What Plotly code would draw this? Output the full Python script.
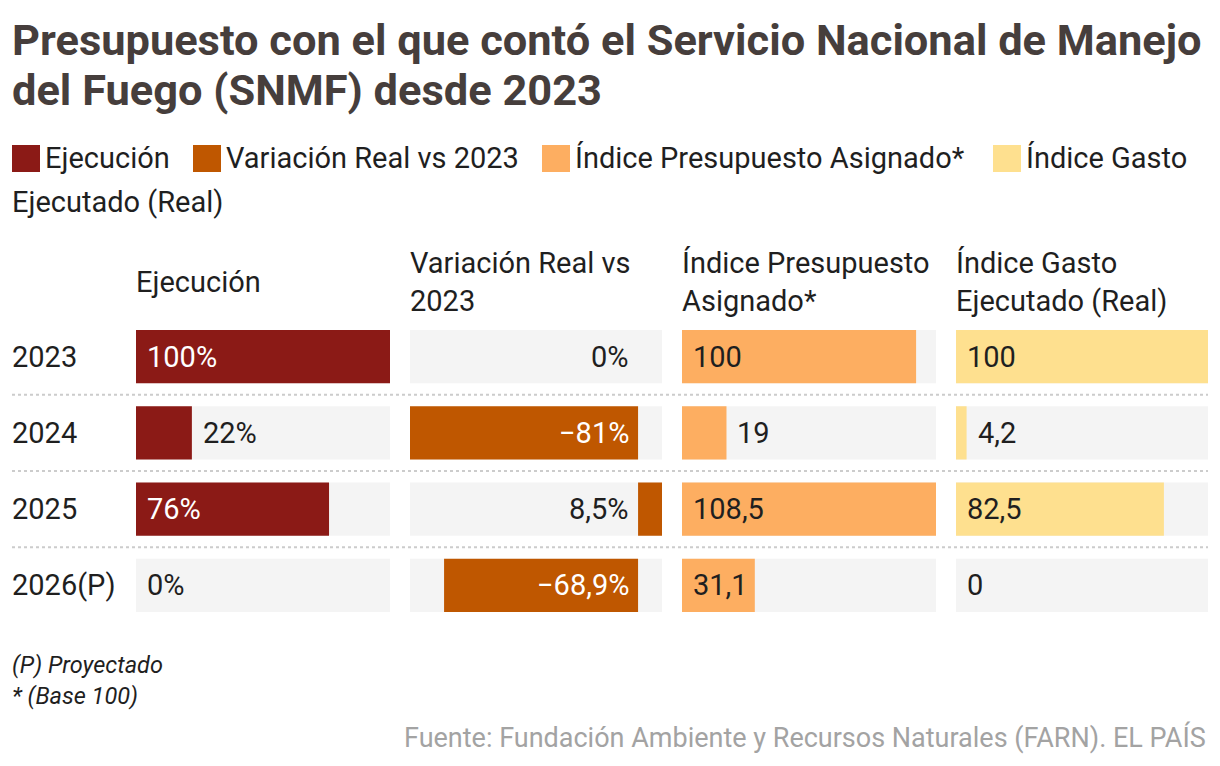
import plotly.graph_objects as go

# ---------------- data ----------------
years = ["2023", "2024", "2025", "2026(P)"]
ejecucion = [100, 22, 76, 0]
variacion = [0, -81, 8.5, -68.9]
indice_presupuesto = [100, 19, 108.5, 31.1]
indice_gasto = [100, 4.2, 82.5, 0]

column_headers = ["Ejecución", "Variación Real vs<br>2023",
                  "Índice Presupuesto<br>Asignado*", "Índice Gasto<br>Ejecutado (Real)"]
legend_names = ["Ejecución", "Variación Real vs 2023",
                "Índice Presupuesto Asignado*", "Índice Gasto"]
suffixes = ["%", "%", "", ""]
colors = ["#8b1a16", "#bf5700", "#fdae61", "#fee08f"]

title_lines = ["Presupuesto con el que contó el Servicio Nacional de Manejo",
               "del Fuego (SNMF) desde 2023"]
notes = ["(P) Proyectado", "* (Base 100)"]
source = "Fuente: Fundación Ambiente y Recursos Naturales (FARN). EL PAÍS"

# ---------------- layout helpers ----------------
W, H = 1220, 766
FONT = "Roboto"
TXT = "#1f1f1f"
BG = "#f4f4f4"
FS = 29


def px(x):
    return x / W


def py(y):
    return 1 - y / H


col_px = [(136, 390), (410, 662), (682, 936), (956, 1208)]
series = [ejecucion, variacion, indice_presupuesto, indice_gasto]
ypos = list(range(len(years)))


def fmt(v, suf):
    s = ("%g" % abs(v)).replace(".", ",")
    sign = "−" if v < 0 else ""
    return sign + s + suf


fig = go.Figure()
annotations = []
shapes = []
layout_axes = {}

for i, (vals, col) in enumerate(zip(series, colors)):
    xa = "x" if i == 0 else f"x{i+1}"
    lo = min(0, min(vals))
    hi = max(vals)
    # background track
    fig.add_trace(go.Bar(
        y=years, x=[hi - lo] * len(years), base=[lo] * len(years),
        orientation="h", marker=dict(color=BG, line=dict(width=0)),
        xaxis=xa, yaxis="y", showlegend=False, hoverinfo="skip"))
    fig.add_trace(go.Bar(
        y=years, x=vals, orientation="h",
        marker=dict(color=col, line=dict(width=0)),
        xaxis=xa, yaxis="y", showlegend=False, name=legend_names[i]))
    key = "xaxis" if i == 0 else f"xaxis{i+1}"
    layout_axes[key] = dict(domain=[px(col_px[i][0]), px(col_px[i][1])],
                            range=[lo, hi], visible=False, anchor="y",
                            fixedrange=True)
    # value labels
    for k, v in zip(ypos, vals):
        txt = fmt(v, suffixes[i])
        if i == 1:
            color = "white" if v < -20 else TXT
            annotations.append(dict(x=0, y=k, xref=xa, yref="y", text=txt,
                                    showarrow=False, xanchor="right", xshift=-7,
                                    font=dict(family=FONT, size=FS, color=color)))
        else:
            frac = v / (hi - lo)
            inside = frac > 0.25
            color = "white" if (inside and i == 0) else TXT
            annotations.append(dict(x=(0 if inside else v), y=k, xref=xa, yref="y",
                                    text=txt, showarrow=False, xanchor="left",
                                    xshift=9,
                                    font=dict(family=FONT, size=FS, color=color)))
    # column header
    annotations.append(dict(x=px(col_px[i][0]), y=py(282), xref="paper", yref="paper",
                            text=column_headers[i], showarrow=False, xanchor="left",
                            yanchor="middle", align="left", xshift=-2,
                            font=dict(family=FONT, size=FS, color=TXT)))

# row labels
for k, y in zip(ypos, years):
    annotations.append(dict(x=px(12), y=k, xref="paper", yref="y", text=y,
                            showarrow=False, xanchor="left", xshift=-2,
                            font=dict(family=FONT, size=FS, color=TXT)))

# dotted separators
for k in ypos[:-1]:
    shapes.append(dict(type="line", xref="paper", yref="y",
                       x0=px(12), x1=px(1208), y0=k + 0.5, y1=k + 0.5,
                       line=dict(color="#cccccc", width=2, dash="dot")))

# title
for j, line in enumerate(title_lines):
    annotations.append(dict(x=px(12), y=py(41 + 50 * j), xref="paper", yref="paper",
                            text="<b>" + line + "</b>", showarrow=False,
                            xanchor="left", yanchor="middle", xshift=-2,
                            font=dict(family=FONT, size=43.4, color="#463e3c")))

# legend (manual)
sq_x = [12, 193, 542, 993]
for j, name in enumerate(legend_names):
    shapes.append(dict(type="rect", xref="paper", yref="paper",
                       x0=px(sq_x[j]), x1=px(sq_x[j] + 28), y0=py(172), y1=py(145),
                       fillcolor=colors[j], line=dict(width=0)))
    annotations.append(dict(x=px(sq_x[j] + 31), y=py(158), xref="paper", yref="paper",
                            text=name, showarrow=False, xanchor="left", yanchor="middle",
                            font=dict(family=FONT, size=FS, color=TXT)))
annotations.append(dict(x=px(12), y=py(202), xref="paper", yref="paper",
                        text="Ejecutado (Real)", showarrow=False, xanchor="left",
                        yanchor="middle", xshift=-2,
                        font=dict(family=FONT, size=FS, color=TXT)))

# notes and source
for j, n in enumerate(notes):
    annotations.append(dict(x=px(12), y=py(665 + 31 * j), xref="paper", yref="paper",
                            text="<i>" + n + "</i>", showarrow=False, xanchor="left",
                            yanchor="middle", xshift=-2,
                            font=dict(family=FONT, size=23.5, color=TXT)))
annotations.append(dict(x=px(1208), y=py(737), xref="paper", yref="paper",
                        text=source, showarrow=False, xanchor="right", yanchor="middle",
                        font=dict(family=FONT, size=27, color="#a3a3a3")))

fig.update_layout(
    width=W, height=H,
    margin=dict(l=0, r=0, t=0, b=0),
    paper_bgcolor="white", plot_bgcolor="white",
    barmode="overlay", bargap=0.3,
    showlegend=False,
    yaxis=dict(type="category", categoryorder="array", categoryarray=years,
               range=[len(years) - 0.5, -0.5],
               domain=[py(623.5), py(318.5)], visible=False, fixedrange=True),
    annotations=annotations, shapes=shapes,
    **layout_axes,
)

fig.write_html("out.html", config={"displayModeBar": False})
